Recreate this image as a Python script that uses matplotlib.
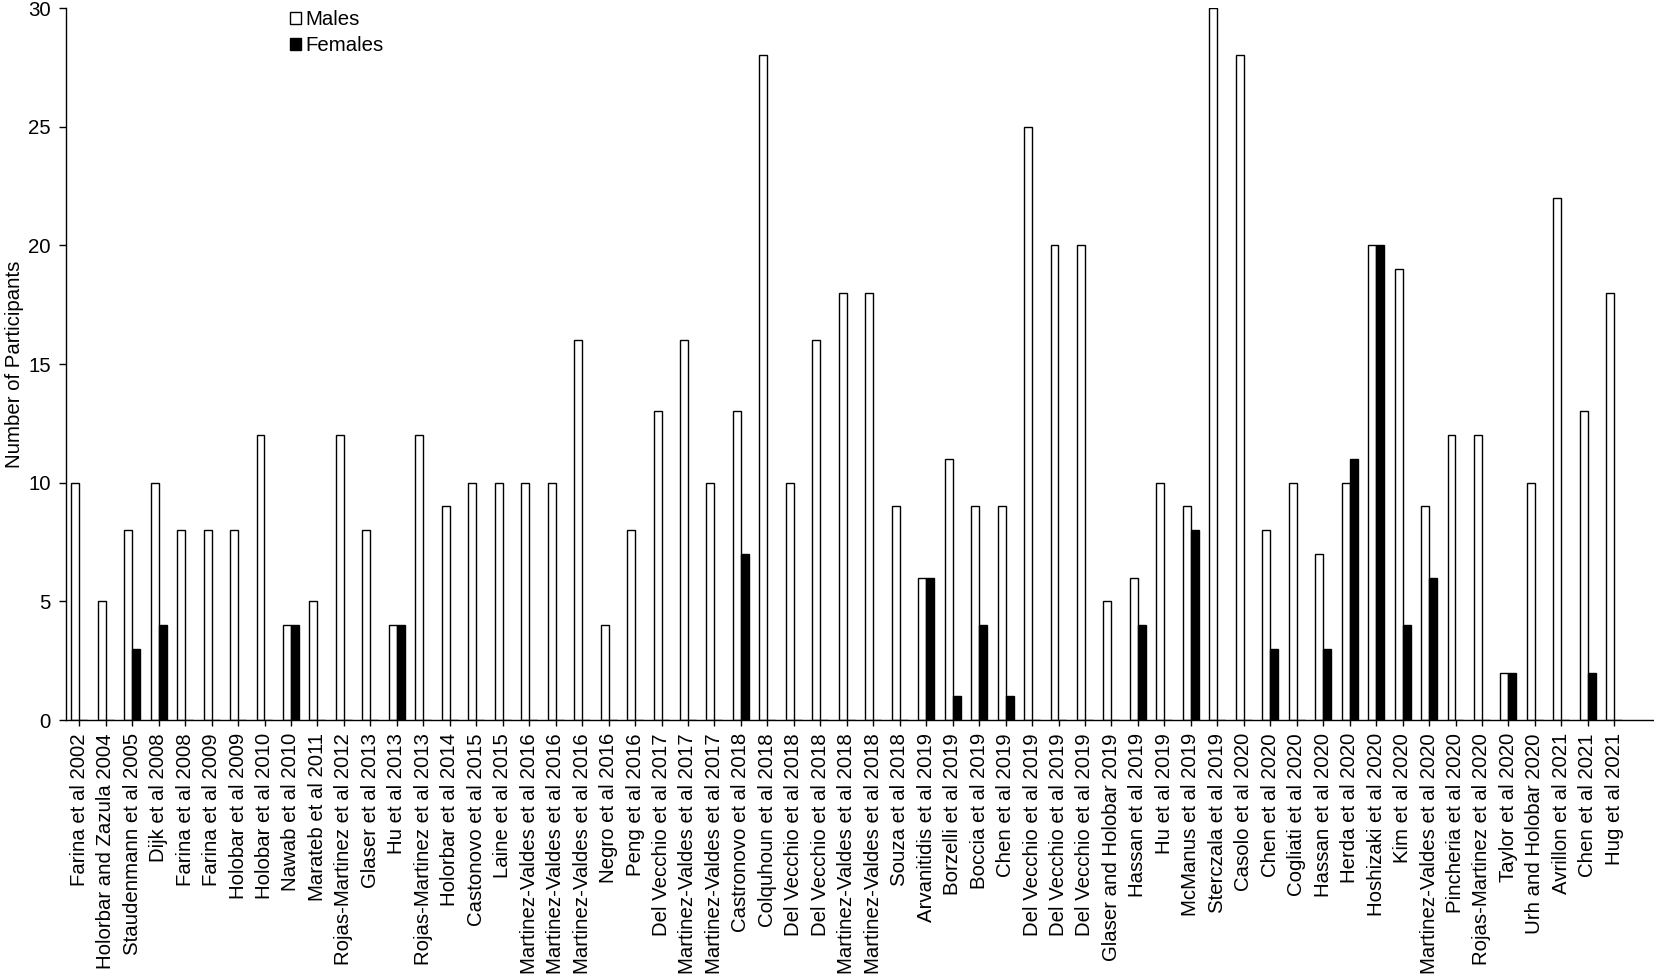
import numpy as np
from matplotlib import pyplot as plt

plt.rcParams['font.family'] = ['Liberation Sans', 'DejaVu Sans']

# studies on the x axis
studies = [
    "Farina et al 2002", "Holorbar and Zazula 2004", "Staudenmann et al 2005",
    "Dijk et al 2008", "Farina et al 2008", "Farina et al 2009",
    "Holobar et al 2009", "Holobar et al 2010", "Nawab et al 2010",
    "Marateb et al 2011", "Rojas-Martinez et al 2012", "Glaser et al 2013",
    "Hu et al 2013", "Rojas-Martinez et al 2013", "Holorbar et al 2014",
    "Castonovo et al 2015", "Laine et al 2015", "Martinez-Valdes et al 2016",
    "Martinez-Valdes et al 2016", "Martinez-Valdes et al 2016", "Negro et al 2016",
    "Peng et al 2016", "Del Vecchio et al 2017", "Martinez-Valdes et al 2017",
    "Martinez-Valdes et al 2017", "Castronovo et al 2018", "Colquhoun et al 2018",
    "Del Vecchio et al 2018", "Del Vecchio et al 2018", "Martinez-Valdes et al 2018",
    "Martinez-Valdes et al 2018", "Souza et al 2018", "Arvanitidis et al 2019",
    "Borzelli et al 2019", "Boccia et al 2019", "Chen et al 2019",
    "Del Vecchio et al 2019", "Del Vecchio et al 2019", "Del Vecchio et al 2019",
    "Glaser and Holobar 2019", "Hassan et al 2019", "Hu et al 2019",
    "McManus et al 2019", "Sterczala et al 2019", "Casolo et al 2020",
    "Chen et al 2020", "Cogliati et al 2020", "Hassan et al 2020",
    "Herda et al 2020", "Hoshizaki et al 2020", "Kim et al 2020",
    "Martinez-Valdes et al 2020", "Pincheria et al 2020", "Rojas-Martinez et al 2020",
    "Taylor et al 2020", "Urh and Holobar 2020", "Avrillon et al 2021",
    "Chen et al 2021", "Hug et al 2021",
]

males = [10, 5, 8, 10, 8, 8, 8, 12, 4, 5, 12, 8, 4, 12, 9, 10, 10, 10, 10, 16,
         4, 8, 13, 16, 10, 13, 28, 10, 16, 18, 18, 9, 6, 11, 9, 9, 25, 20, 20, 5,
         6, 10, 9, 30, 28, 8, 10, 7, 10, 20, 19, 9, 12, 12, 2, 10, 22, 13, 18]

females = [0, 0, 3, 4, 0, 0, 0, 0, 4, 0, 0, 0, 4, 0, 0, 0, 0, 0, 0, 0,
           0, 0, 0, 0, 0, 7, 0, 0, 0, 0, 0, 0, 6, 1, 4, 1, 0, 0, 0, 0,
           4, 0, 8, 0, 0, 3, 0, 3, 11, 20, 4, 6, 0, 0, 2, 0, 0, 2, 0]

fs = 14.7
fig = plt.figure(figsize=(16.54, 9.77), dpi=100)
ax = fig.add_axes([66 / 1654, 1 - 720 / 977, 1 - 66 / 1654, (720 - 8) / 977])

x = np.arange(len(studies))
w = 0.3
ax.bar(x - w / 2, males, w, color='white', edgecolor='black', linewidth=1.0, label='Males')
ax.bar(x + w / 2, females, w, color='black', edgecolor='black', linewidth=1.0, label='Females')

ax.set_xlim(-0.5, 59.5)
ax.set_ylim(0, 30)
ax.set_yticks(range(0, 31, 5))
ax.set_xticks(x)
ax.set_xticklabels(studies, rotation=90, fontsize=fs)
ax.tick_params(axis='y', labelsize=fs, length=5, width=1.0, pad=6)
ax.tick_params(axis='x', length=4.5, width=1.0, pad=5)
ax.set_ylabel("Number of Participants", fontsize=fs, labelpad=3)

for side in ['top', 'right']:
    ax.spines[side].set_visible(False)
for side in ['left', 'bottom']:
    ax.spines[side].set_linewidth(1.0)

ax.legend(loc='upper left', bbox_to_anchor=(0.141, 0.997), frameon=False, fontsize=fs,
          handlelength=0.55, handleheight=0.55, handletextpad=0.2, labelspacing=0.35,
          borderpad=0, borderaxespad=0)

fig.savefig("out.png", dpi=100)
